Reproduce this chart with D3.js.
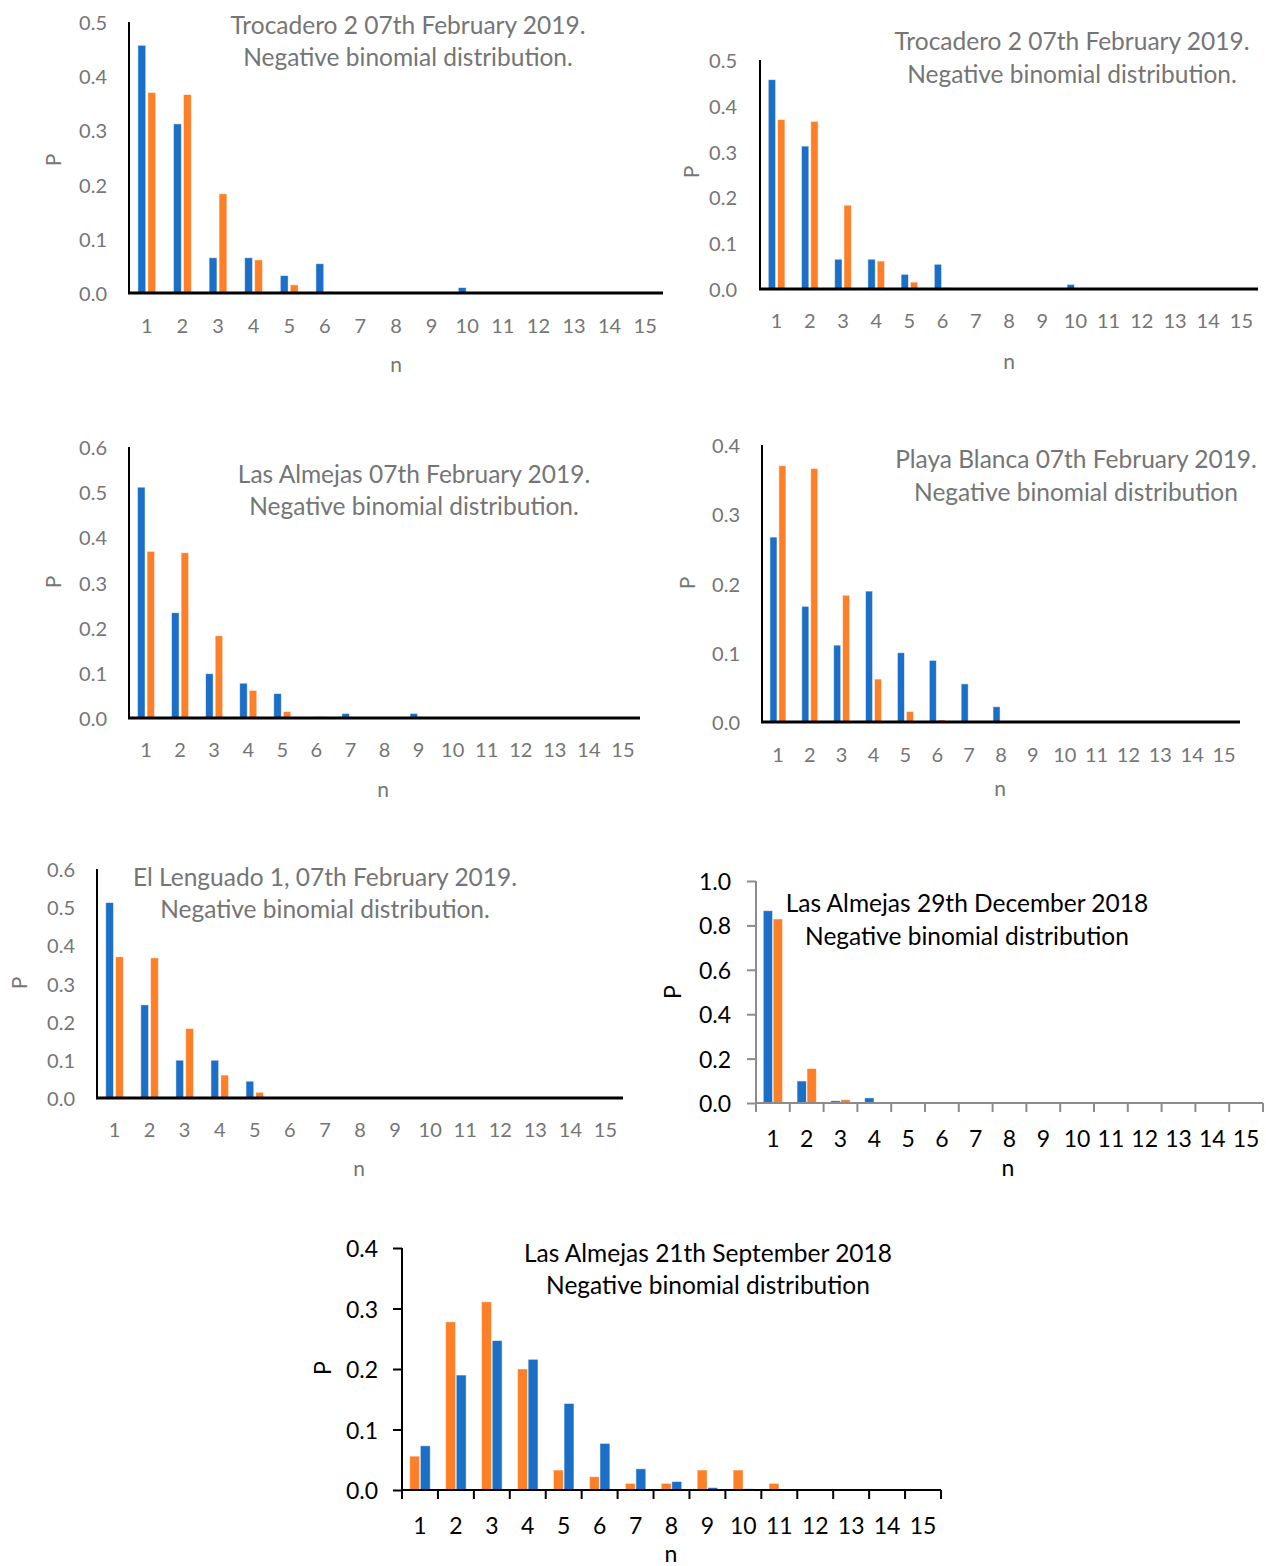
<!DOCTYPE html>
<html>
<head>
<meta charset="utf-8">
<script src="https://cdn.jsdelivr.net/npm/d3@7"></script>
<style>
  html, body { margin: 0; padding: 0; background: #fff; }
  svg { display: block; }
  text { font-family: Lato, "Open Sans", sans-serif; }
</style>
</head>
<body>
<svg id="chart" width="1266" height="1566"></svg>
<script>
// Number of individuals per sample unit (n = 1 … 15)
const categories = ["1","2","3","4","5","6","7","8","9","10","11","12","13","14","15"];

// Trocadero 2, 07 Feb 2019
const trocaderoObserved = [0.457,0.312,0.065,0.065,0.032,0.054,0,0,0,0.010,0,0,0,0,0];
const trocaderoFitted   = [0.370,0.366,0.183,0.061,0.015,0.003,0,0,0,0,0,0,0,0,0];

// Las Almejas, 07 Feb 2019
const almejasFebObserved = [0.511,0.233,0.098,0.077,0.054,0,0.010,0,0.010,0,0,0,0,0,0];
const almejasFebFitted   = [0.369,0.366,0.182,0.061,0.014,0.003,0,0,0,0,0,0,0,0,0];

// Playa Blanca, 07 Feb 2019
const playaObserved = [0.267,0.167,0.111,0.189,0.100,0.089,0.055,0.022,0,0,0,0,0,0,0];
const playaFitted   = [0.370,0.366,0.183,0.062,0.015,0.003,0,0,0,0,0,0,0,0,0];

// El Lenguado 1, 07 Feb 2019
const lenguadoObserved = [0.512,0.244,0.099,0.099,0.044,0,0,0,0,0,0,0,0,0,0];
const lenguadoFitted   = [0.370,0.367,0.182,0.060,0.015,0,0,0,0,0,0,0,0,0,0];

// Las Almejas, 29 Dec 2018
const almejasDecObserved = [0.866,0.099,0.010,0.023,0,0,0,0,0,0,0,0,0,0,0];
const almejasDecFitted   = [0.829,0.155,0.015,0,0,0,0,0,0,0,0,0,0,0,0];

// Las Almejas, 21 Sep 2018 (orange drawn first in this panel)
const almejasSepObserved = [0.056,0.278,0.311,0.200,0.033,0.022,0.011,0.011,0.033,0.033,0.011,0,0,0,0];
const almejasSepFitted   = [0.073,0.190,0.247,0.216,0.143,0.077,0.035,0.014,0.004,0.002,0,0,0,0,0];

// Y tick values per panel
const ticksHalf  = [0,0.1,0.2,0.3,0.4,0.5];
const ticksSix   = [0,0.1,0.2,0.3,0.4,0.5,0.6];
const ticksFour  = [0,0.1,0.2,0.3,0.4];
const ticksOne   = [0,0.2,0.4,0.6,0.8,1.0];

const BLUE = "#1b6fc6";
const ORANGE = "#fd7f28";
const GREY_TEXT = "#757575";

const svg = d3.select("#chart");

const panels = [
  { title: ["Trocadero 2 07th February 2019.", "Negative binomial distribution."],
    series: [{v: trocaderoObserved, c: BLUE}, {v: trocaderoFitted, c: ORANGE}],
    ymax: 0.5, ticks: ticksHalf, style: "grey",
    x0: 129, x1: 663, yTop: 22, yBot: 293, tickRight: 107, xLabY: 325,
    pX: 52, pY: 160, nX: 396, nY: 363, tX: 408, tY: [24, 56] },
  { title: ["Trocadero 2 07th February 2019.", "Negative binomial distribution."],
    series: [{v: trocaderoObserved, c: BLUE}, {v: trocaderoFitted, c: ORANGE}],
    ymax: 0.5, ticks: ticksHalf, style: "grey",
    x0: 760, x1: 1258, yTop: 60, yBot: 289, tickRight: 737, xLabY: 320,
    pX: 690, pY: 172, nX: 1009, nY: 360, tX: 1072, tY: [40, 73] },
  { title: ["Las Almejas 07th February 2019.", "Negative binomial distribution."],
    series: [{v: almejasFebObserved, c: BLUE}, {v: almejasFebFitted, c: ORANGE}],
    ymax: 0.6, ticks: ticksSix, style: "grey",
    x0: 129, x1: 640, yTop: 447, yBot: 718, tickRight: 107, xLabY: 749,
    pX: 52, pY: 582, nX: 383, nY: 788, tX: 414, tY: [473, 505] },
  { title: ["Playa Blanca 07th February 2019.", "Negative binomial distribution"],
    series: [{v: playaObserved, c: BLUE}, {v: playaFitted, c: ORANGE}],
    ymax: 0.4, ticks: ticksFour, style: "grey",
    x0: 762, x1: 1240, yTop: 445, yBot: 722, tickRight: 740, xLabY: 754,
    pX: 686, pY: 583, nX: 1000, nY: 787, tX: 1076, tY: [458, 491] },
  { title: ["El Lenguado 1, 07th February 2019.", "Negative binomial distribution."],
    series: [{v: lenguadoObserved, c: BLUE}, {v: lenguadoFitted, c: ORANGE}],
    ymax: 0.6, ticks: ticksSix, style: "grey",
    x0: 97, x1: 623, yTop: 869, yBot: 1098, tickRight: 75, xLabY: 1129,
    pX: 18, pY: 983, nX: 359, nY: 1167, tX: 325, tY: [876, 908] },
  { title: ["Las Almejas 29th December 2018", "Negative binomial distribution"],
    series: [{v: almejasDecObserved, c: BLUE}, {v: almejasDecFitted, c: ORANGE}],
    ymax: 1.0, ticks: ticksOne, style: "ticked", axisColor: "#8c8c8c",
    x0: 756, x1: 1263, yTop: 881, yBot: 1103, tickRight: 731, xLabY: 1138,
    pX: 672, pY: 992, nX: 1008, nY: 1167, tX: 967, tY: [902, 935] },
  { title: ["Las Almejas 21th September 2018", "Negative binomial distribution"],
    series: [{v: almejasSepObserved, c: ORANGE}, {v: almejasSepFitted, c: BLUE}],
    ymax: 0.4, ticks: ticksFour, style: "ticked", axisColor: "#000",
    x0: 402, x1: 941, yTop: 1248, yBot: 1490, tickRight: 378, xLabY: 1525,
    pX: 322, pY: 1368, nX: 671, nY: 1553, tX: 708, tY: [1252, 1284] }
];

panels.forEach(p => drawPanel(p));

function drawPanel(p) {
  const grey = p.style === "grey";
  const textColor = grey ? GREY_TEXT : "#000";
  const tickFont = grey ? 20 : 23;
  const titleFont = 24.5;
  const axisTitleFont = grey ? 21 : 23;

  const g = svg.append("g");

  const x = d3.scaleBand().domain(categories).range([p.x0, p.x1]);
  const y = d3.scaleLinear().domain([0, p.ymax]).range([p.yBot, p.yTop]);

  // Two bars per category, side by side around the category centre
  const barFrac = grey ? 0.22 : 0.275;
  const gapFrac = grey ? 0.06 : 0.02;
  const bw = x.bandwidth() * barFrac;
  const gap = x.bandwidth() * gapFrac;
  const pairW = 2 * bw + gap;

  p.series.forEach((s, si) => {
    g.append("g").selectAll("rect")
      .data(s.v.map((v, i) => ({ cat: categories[i], v })))
      .join("rect")
      .attr("x", d => x(d.cat) + x.bandwidth() / 2 - pairW / 2 + si * (bw + gap))
      .attr("y", d => y(d.v))
      .attr("width", bw)
      .attr("height", d => y(0) - y(d.v))
      .attr("fill", s.c)
      .attr("stroke", "#ffffff")
      .attr("stroke-opacity", 0.6)
      .attr("stroke-width", 0.8);
  });

  // Y tick labels
  g.append("g").selectAll("text")
    .data(p.ticks)
    .join("text")
    .attr("x", p.tickRight)
    .attr("y", d => y(d))
    .attr("text-anchor", "end")
    .attr("dominant-baseline", "central")
    .attr("font-size", tickFont)
    .attr("fill", textColor)
    .text(d3.format(".1f"));

  // X category labels
  g.append("g").selectAll("text")
    .data(categories)
    .join("text")
    .attr("x", d => x(d) + x.bandwidth() / 2)
    .attr("y", p.xLabY)
    .attr("text-anchor", "middle")
    .attr("dominant-baseline", "central")
    .attr("font-size", tickFont)
    .attr("fill", textColor)
    .text(d => d);

  if (grey) {
    // Plain black axis lines
    g.append("line")
      .attr("x1", p.x0).attr("x2", p.x0)
      .attr("y1", p.yTop).attr("y2", p.yBot)
      .attr("stroke", "#000").attr("stroke-width", 2);
    g.append("line")
      .attr("x1", p.x0 - 1).attr("x2", p.x1)
      .attr("y1", p.yBot).attr("y2", p.yBot)
      .attr("stroke", "#000").attr("stroke-width", 3);
  } else {
    // Axis lines with outward tick marks
    const yAxis = d3.axisLeft(y).tickValues(p.ticks).tickSize(9).tickFormat("");
    const ya = g.append("g").attr("transform", `translate(${p.x0},0)`).call(yAxis);
    const bounds = categories.map(c => x(c)).concat([p.x1]);
    const xTicks = g.append("g");
    xTicks.selectAll("line").data(bounds).join("line")
      .attr("x1", d => d).attr("x2", d => d)
      .attr("y1", p.yBot).attr("y2", p.yBot + 9)
      .attr("stroke", p.axisColor).attr("stroke-width", 2);
    g.append("line")
      .attr("x1", p.x0).attr("x2", p.x1)
      .attr("y1", p.yBot).attr("y2", p.yBot)
      .attr("stroke", p.axisColor).attr("stroke-width", 2);
    ya.select(".domain").remove();
    ya.selectAll(".tick line").attr("stroke", p.axisColor).attr("stroke-width", 2);
    g.append("line")
      .attr("x1", p.x0).attr("x2", p.x0)
      .attr("y1", p.yTop).attr("y2", p.yBot)
      .attr("stroke", p.axisColor).attr("stroke-width", 2);
  }

  // Axis titles
  g.append("text")
    .attr("transform", `translate(${p.pX},${p.pY}) rotate(-90)`)
    .attr("text-anchor", "middle")
    .attr("dominant-baseline", "central")
    .attr("font-size", axisTitleFont)
    .attr("fill", textColor)
    .text("P");
  g.append("text")
    .attr("x", p.nX).attr("y", p.nY)
    .attr("text-anchor", "middle")
    .attr("dominant-baseline", "central")
    .attr("font-size", axisTitleFont)
    .attr("fill", textColor)
    .text("n");

  // Chart title, two centred lines
  p.title.forEach((line, i) => {
    g.append("text")
      .attr("x", p.tX).attr("y", p.tY[i])
      .attr("text-anchor", "middle")
      .attr("dominant-baseline", "central")
      .attr("font-size", titleFont)
      .attr("fill", textColor)
      .text(line);
  });
}
</script>
</body>
</html>
